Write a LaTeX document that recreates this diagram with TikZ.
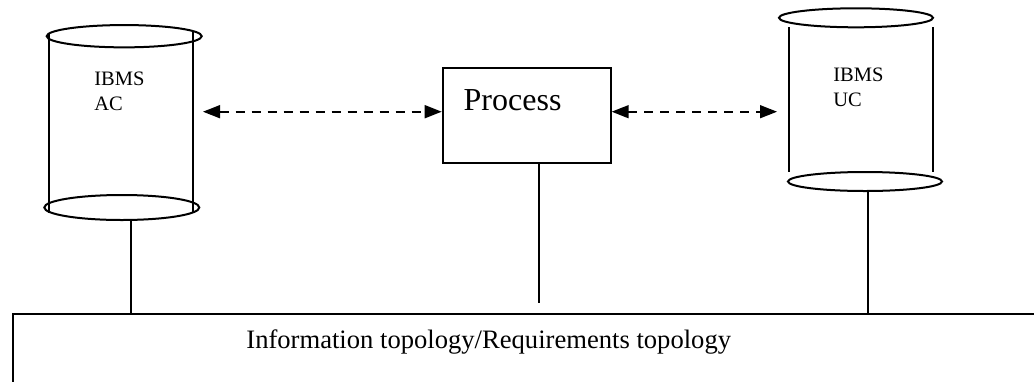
\documentclass[tikz,border=0pt]{standalone}
\usepackage{fontspec}
\setmainfont{Liberation Serif}
\usetikzlibrary{shapes.geometric,arrows.meta}
\begin{document}
\begin{tikzpicture}[x=0.5pt,y=-0.5pt,
  outline/.style={draw, line width=1pt, inner sep=0pt},
  disc/.style={ellipse, draw, line width=1pt, inner sep=0pt, minimum width=77.5pt},
  wall/.style={line width=0.9pt},
  link/.style={line width=1pt},
  flow/.style={line width=0.8pt, dash pattern=on 4.5pt off 3.5pt,
    {Triangle[length=8.5pt,width=6.5pt]}-{Triangle[length=8.5pt,width=6.5pt]}},
  small/.style={font=\fontsize{10.25pt}{12.5pt}\selectfont, inner sep=0pt, anchor=base west},
  big/.style={font=\fontsize{16pt}{19pt}\selectfont, inner sep=0pt, anchor=base west},
  mid/.style={font=\fontsize{13.3pt}{16pt}\selectfont, inner sep=0pt, anchor=base west}
]
\clip (0,0) rectangle (1034,381);

% IBMS AC store
\node[disc, minimum height=11.15pt] (actop) at (124.2,36.2) {};
\node[disc, minimum height=12.5pt] (acbot) at (121.8,207.5) {};
\draw[wall] (49,33) -- (49,213);
\draw[wall] (193.3,32) -- (193.3,213);
\node[small] (acl1) at (94,85) {IBMS};
\node[small] (acl2) at (94,110) {AC};

% IBMS UC store
\node[disc, minimum width=77pt, minimum height=9.5pt] (uctop) at (856,17.8) {};
\node[disc, minimum width=77pt, minimum height=9.5pt] (ucbot) at (865,181.5) {};
\draw[wall] (788.7,27) -- (788.7,172);
\draw[wall] (932.7,27) -- (932.7,172);
\node[small] (ucl1) at (833,81.7) {IBMS};
\node[small] (ucl2) at (833,106) {UC};

% process
\node[outline, minimum width=84pt, minimum height=47.5pt] (proc) at (526.7,115.8) {};
\node[big] (ptxt) at (463.3,110) {Process};

% topology bar
\node[outline, anchor=north west, minimum width=525pt, minimum height=50pt] (bus) at (11.7,312.7) {};
\node[mid] (bustxt) at (246,348.3) {Information topology/Requirements topology};

% exchanges
\coordinate (acport) at (203,111.7);
\coordinate (ucport) at (777,111.7);
\draw[flow] (acport) -- (proc.west |- acport);
\draw[flow] (proc.east |- ucport) -- (ucport);

% links to the bar
\coordinate (acx) at (131,220);
\coordinate (ucx) at (868,191);
\coordinate (pend) at (539,302.5);
\draw[link] (acx) -- (acx |- bus.north);
\draw[link] (ucx) -- (ucx |- bus.north);
\draw[link] (proc.south -| pend) -- (pend);
\end{tikzpicture}
\end{document}
